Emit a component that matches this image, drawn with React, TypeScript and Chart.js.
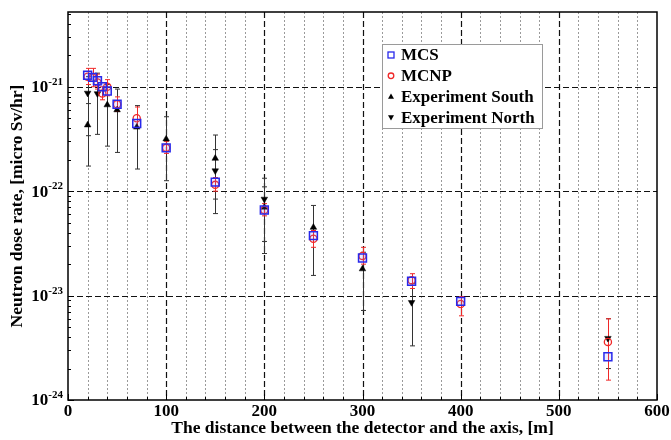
import React, { useEffect, useRef } from 'react';
import { Chart, registerables } from 'chart.js';

Chart.register(...registerables);

// ---------------- data ----------------
const seriesNames = ['MCS', 'MCNP', 'Experiment South', 'Experiment North'];

const mcsDistance = [20, 25, 30, 35, 40, 50, 70, 100, 150, 200, 250, 300, 350, 400, 550];
const mcsDose = [1.29e-21, 1.23e-21, 1.14e-21, 1.0e-21, 0.91e-21, 0.68e-21, 0.445e-21, 0.26e-21, 0.122e-21, 0.066e-21, 0.0375e-21, 2.29e-23, 1.37e-23, 0.88e-23, 2.6e-24];

const mcnpDistance = [20, 25, 30, 35, 40, 50, 70, 100, 150, 200, 250, 300, 350, 400, 550];
const mcnpDose = [1.25e-21, 1.22e-21, 1.1e-21, 0.86e-21, 1.0e-21, 0.68e-21, 0.5e-21, 0.26e-21, 0.115e-21, 0.066e-21, 0.035e-21, 2.4e-23, 1.4e-23, 0.83e-23, 3.6e-24];
const mcnpLow = [1.05e-21, 1.0e-21, 0.95e-21, 0.75e-21, 0.82e-21, 0.58e-21, 0.41e-21, 0.23e-21, 0.1e-21, 0.058e-21, 0.029e-21, 2.0e-23, 1.17e-23, 0.64e-23, 1.55e-24];
const mcnpHigh = [1.5e-21, 1.5e-21, 1.32e-21, 1.0e-21, 1.17e-21, 0.8e-21, 0.64e-21, 0.3e-21, 0.135e-21, 0.076e-21, 0.042e-21, 2.9e-23, 1.62e-23, 0.98e-23, 6.0e-24];

const southDistance = [20, 40, 50, 70, 100, 150, 200, 250, 300];
const southDose = [0.43e-21, 0.67e-21, 0.6e-21, 0.41e-21, 0.316e-21, 0.206e-21, 0.07e-21, 0.45e-22, 1.8e-23];
const southLow = [0.174e-21, 0.27e-21, 0.235e-21, 0.163e-21, 0.126e-21, 0.084e-21, 0.033e-21, 0.156e-22, 0.72e-23];
const southHigh = [0.69e-21, 1.05e-21, 0.95e-21, 0.66e-21, 0.516e-21, 0.345e-21, 0.11e-21, 0.73e-22, 2.6e-23];

const northDistance = [20, 30, 150, 200, 350, 550];
const northDose = [0.87e-21, 0.86e-21, 0.157e-21, 0.84e-22, 0.86e-23, 3.9e-24];
const northLow = [0.34e-21, 0.35e-21, 0.061e-21, 0.253e-22, 0.33e-23, 2.0e-24];
const northHigh = [1.25e-21, 1.35e-21, 0.25e-21, 1.33e-22, 1.3e-23, 6.0e-24];

const xTickValues = [0, 100, 200, 300, 400, 500, 600];
const xMinorValues = [20, 40, 60, 80, 120, 140, 160, 180, 220, 240, 260, 280, 320, 340, 360, 380, 420, 440, 460, 480, 520, 540, 560, 580];
const yTickValues = [1e-24, 1e-23, 1e-22, 1e-21];
const yTickBase = '10';
const yTickExponents = ['-24', '-23', '-22', '-21'];

const xTitle = 'The distance between the detector and the axis, [m]';
const yTitle = 'Neutron dose rate, [micro Sv/hr]';

// ---------------- styles ----------------
const FONT = '"Liberation Serif", "Times New Roman", serif';
const BLUE = 'rgb(40,40,235)';
const RED = 'rgb(240,40,40)';
const BLACK = '#000';

const toPoints = (xs: number[], ys: number[]) => xs.map((x, i) => ({ x, y: ys[i] }));

const decorPlugin = {
  id: 'decor',
  beforeDatasetsDraw(chart: any) {
    const { ctx, chartArea: a, scales } = chart;
    const xs = scales.x;
    const ys = scales.y;
    ctx.save();
    ctx.beginPath();
    ctx.rect(a.left, a.top, a.right - a.left, a.bottom - a.top);
    ctx.clip();
    // minor vertical dotted grid
    ctx.strokeStyle = '#9a9a9a';
    ctx.lineWidth = 1;
    ctx.setLineDash([2, 2]);
    for (const v of xMinorValues) {
      const px = Math.round(xs.getPixelForValue(v)) + 0.5;
      ctx.beginPath();
      ctx.moveTo(px, a.top);
      ctx.lineTo(px, a.bottom);
      ctx.stroke();
    }
    // major dashed grid
    ctx.strokeStyle = '#111';
    ctx.lineWidth = 1.2;
    ctx.setLineDash([6, 3]);
    for (const v of xTickValues) {
      if (v === xTickValues[0] || v === xTickValues[xTickValues.length - 1]) continue;
      const px = Math.round(xs.getPixelForValue(v)) + 0.5;
      ctx.beginPath();
      ctx.moveTo(px, a.top);
      ctx.lineTo(px, a.bottom);
      ctx.stroke();
    }
    for (const v of yTickValues) {
      if (v === yTickValues[0]) continue;
      const py = Math.round(ys.getPixelForValue(v)) + 0.5;
      ctx.beginPath();
      ctx.moveTo(a.left, py);
      ctx.lineTo(a.right, py);
      ctx.stroke();
    }
    ctx.setLineDash([]);
    // error bars
    const bars = (dx: number[], lo: number[], hi: number[], color: string) => {
      ctx.strokeStyle = color;
      ctx.lineWidth = 1;
      for (let i = 0; i < dx.length; i++) {
        const px = Math.round(xs.getPixelForValue(dx[i])) + 0.5;
        const y1 = ys.getPixelForValue(lo[i]);
        const y2 = ys.getPixelForValue(hi[i]);
        ctx.beginPath();
        ctx.moveTo(px, y1);
        ctx.lineTo(px, y2);
        ctx.moveTo(px - 2.5, y1);
        ctx.lineTo(px + 2.5, y1);
        ctx.moveTo(px - 2.5, y2);
        ctx.lineTo(px + 2.5, y2);
        ctx.stroke();
      }
    };
    bars(southDistance, southLow, southHigh, '#333');
    bars(northDistance, northLow, northHigh, '#333');
    bars(mcnpDistance, mcnpLow, mcnpHigh, RED);
    ctx.restore();
  },
  afterDatasetsDraw(chart: any) {
    const { ctx, chartArea: a, scales } = chart;
    const xs = scales.x;
    const ys = scales.y;
    ctx.save();
    // frame
    ctx.strokeStyle = BLACK;
    ctx.lineWidth = 1.5;
    ctx.strokeRect(a.left, a.top, a.right - a.left, a.bottom - a.top);
    // inward ticks bottom
    ctx.lineWidth = 1;
    ctx.beginPath();
    for (const v of xMinorValues) {
      const px = Math.round(xs.getPixelForValue(v)) + 0.5;
      ctx.moveTo(px, a.bottom);
      ctx.lineTo(px, a.bottom - 3);
    }
    for (const v of xTickValues) {
      const px = Math.round(xs.getPixelForValue(v)) + 0.5;
      ctx.moveTo(px, a.bottom);
      ctx.lineTo(px, a.bottom - 6);
    }
    // inward ticks left (log)
    for (const dec of yTickValues) {
      for (let m = 1; m <= 9; m++) {
        const v = dec * m;
        if (v > ys.max) continue;
        const py = Math.round(ys.getPixelForValue(v)) + 0.5;
        ctx.moveTo(a.left, py);
        ctx.lineTo(a.left + (m === 1 ? 6 : 3), py);
      }
    }
    ctx.stroke();
    // y tick labels with superscript
    ctx.fillStyle = BLACK;
    const right = a.left - 5;
    yTickValues.forEach((v, i) => {
      const py = ys.getPixelForValue(v);
      ctx.font = `bold 11px ${FONT}`;
      const ew = ctx.measureText(yTickExponents[i]).width;
      ctx.font = `bold 17px ${FONT}`;
      const bw = ctx.measureText(yTickBase).width;
      ctx.textAlign = 'left';
      ctx.textBaseline = 'middle';
      ctx.fillText(yTickBase, right - ew - bw, py + 1);
      ctx.font = `bold 11px ${FONT}`;
      ctx.textBaseline = 'alphabetic';
      ctx.fillText(yTickExponents[i], right - ew, py - 2);
    });
    // legend
    const lx = 382, ly = 44, lw = 160, lh = 84;
    ctx.fillStyle = '#fff';
    ctx.fillRect(lx, ly, lw, lh);
    ctx.strokeStyle = '#9a9a9a';
    ctx.lineWidth = 1;
    ctx.strokeRect(lx + 0.5, ly + 0.5, lw, lh);
    seriesNames.forEach((name, i) => {
      const cy = ly + 11 + i * 20.8;
      const mx = lx + 9;
      ctx.lineWidth = 1.3;
      if (i === 0) {
        ctx.strokeStyle = BLUE;
        ctx.strokeRect(mx - 3, cy - 3, 6, 6);
      } else if (i === 1) {
        ctx.strokeStyle = RED;
        ctx.beginPath();
        ctx.arc(mx, cy, 2.8, 0, Math.PI * 2);
        ctx.stroke();
      } else {
        ctx.fillStyle = BLACK;
        ctx.beginPath();
        const d = i === 2 ? 1 : -1;
        ctx.moveTo(mx, cy - 3 * d);
        ctx.lineTo(mx - 3, cy + 2.2 * d);
        ctx.lineTo(mx + 3, cy + 2.2 * d);
        ctx.closePath();
        ctx.fill();
      }
      ctx.fillStyle = BLACK;
      ctx.font = `bold 17px ${FONT}`;
      ctx.textAlign = 'left';
      ctx.textBaseline = 'middle';
      ctx.fillText(name, lx + 19, cy + 1);
    });
    ctx.restore();
  },
};

export default function App() {
  const ref = useRef<HTMLCanvasElement>(null);
  useEffect(() => {
    document.body.style.margin = '0';
    const canvas = ref.current;
    if (!canvas) return;
    const chart = new Chart(canvas, {
      type: 'scatter',
      data: {
        datasets: [
          {
            label: seriesNames[0],
            data: toPoints(mcsDistance, mcsDose),
            pointStyle: 'rect',
            pointRadius: 5.6,
            borderColor: BLUE,
            backgroundColor: 'rgba(120,120,255,0.15)',
            borderWidth: 1.5,
          },
          {
            label: seriesNames[1],
            data: toPoints(mcnpDistance, mcnpDose),
            pointStyle: 'circle',
            pointRadius: 3.6,
            borderColor: RED,
            backgroundColor: 'rgba(255,255,255,0)',
            borderWidth: 1.3,
          },
          {
            label: seriesNames[2],
            data: toPoints(southDistance, southDose),
            pointStyle: 'triangle',
            pointRadius: 3.8,
            borderColor: BLACK,
            backgroundColor: BLACK,
            borderWidth: 0.5,
          },
          {
            label: seriesNames[3],
            data: toPoints(northDistance, northDose),
            pointStyle: 'triangle',
            rotation: 180,
            pointRadius: 3.8,
            borderColor: BLACK,
            backgroundColor: BLACK,
            borderWidth: 0.5,
          } as any,
        ],
      },
      options: {
        responsive: false,
        animation: false,
        devicePixelRatio: 1,
        layout: { padding: { top: 12, right: 14, left: 0, bottom: 0 } },
        plugins: { legend: { display: false }, tooltip: { enabled: false } },
        scales: {
          x: {
            type: 'linear',
            min: 0,
            max: 600,
            afterBuildTicks: (s: any) => {
              s.ticks = xTickValues.map((v) => ({ value: v }));
            },
            afterFit: (s: any) => {
              s.height = 40;
            },
            ticks: {
              font: { family: FONT, weight: 'bold', size: 17 },
              color: BLACK,
              padding: -7,
              maxRotation: 0,
              autoSkip: false,
            },
            grid: { display: false },
            border: { display: false },
            title: {
              display: true,
              text: xTitle,
              color: BLACK,
              font: { family: FONT, weight: 'bold', size: 17.5 },
              padding: { top: 0, bottom: 1 },
            },
          },
          y: {
            type: 'logarithmic',
            min: 1e-24,
            max: 5.2e-21,
            afterBuildTicks: (s: any) => {
              s.ticks = yTickValues.map((v) => ({ value: v }));
            },
            afterFit: (s: any) => {
              s.width = 68;
            },
            ticks: { display: false },
            grid: { display: false },
            border: { display: false },
            title: {
              display: true,
              text: yTitle,
              color: BLACK,
              font: { family: FONT, weight: 'bold', size: 17.5 },
              padding: { top: 7, bottom: 0 },
            },
          },
        },
      } as any,
      plugins: [decorPlugin],
    });
    return () => chart.destroy();
  }, []);
  return (
    <div style={{ width: 671, height: 440 }}>
      <canvas ref={ref} width={671} height={440} style={{ display: 'block' }} />
    </div>
  );
}
